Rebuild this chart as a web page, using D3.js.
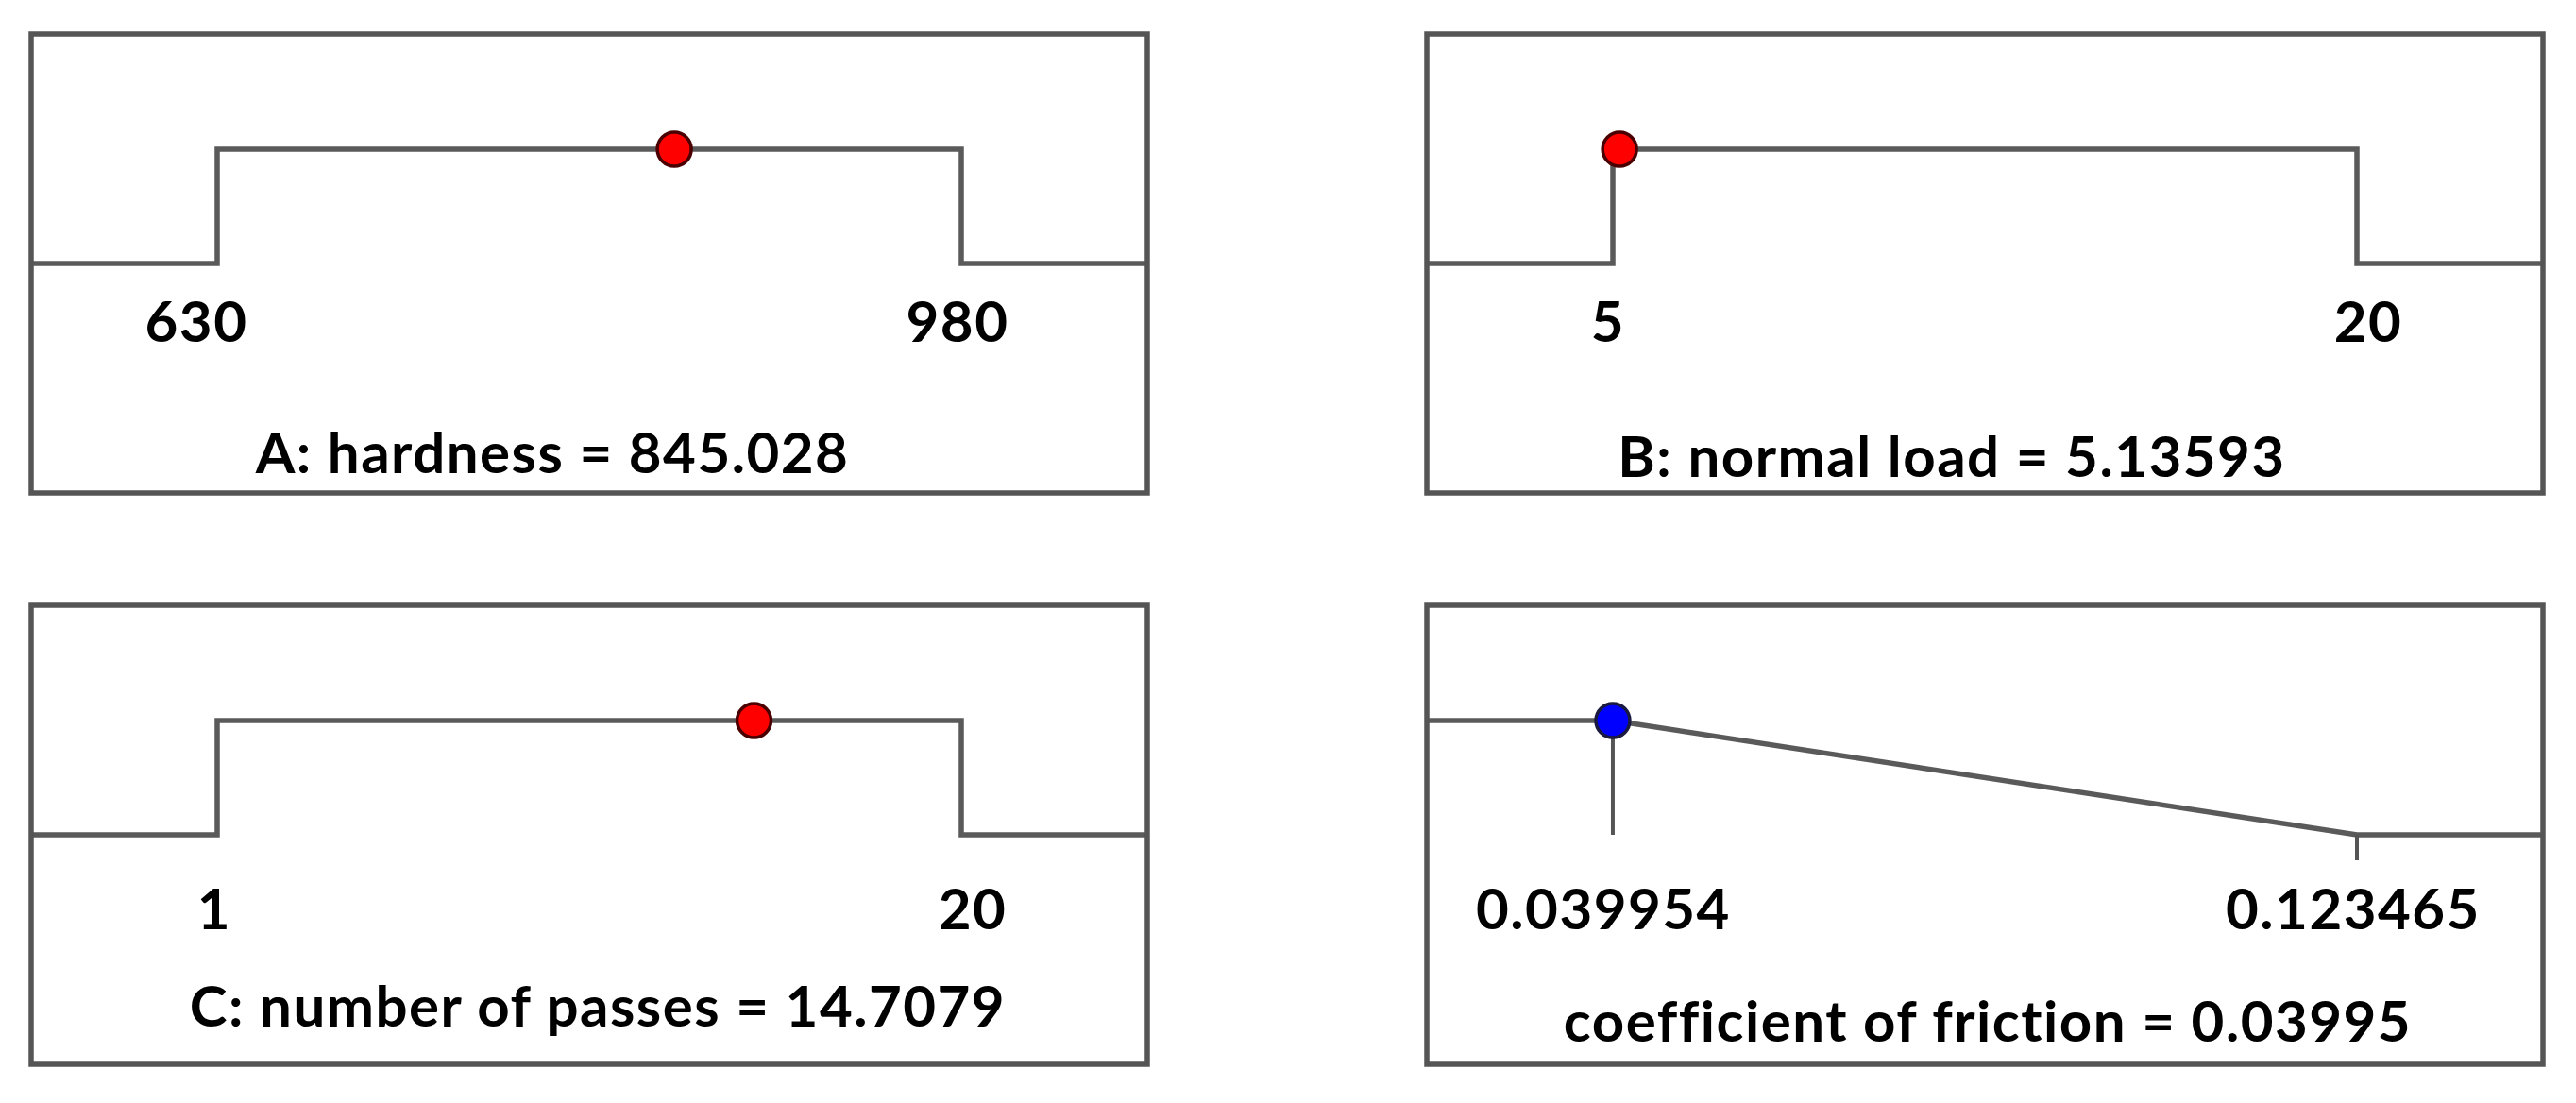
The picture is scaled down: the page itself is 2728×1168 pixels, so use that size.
<!DOCTYPE html>
<html>
<head>
<meta charset="utf-8">
<script src="https://cdn.jsdelivr.net/npm/d3@7"></script>
<style>
  html, body { margin: 0; padding: 0; background: #fff; }
  svg { display: block; }
  .frame { fill: none; stroke: #555; stroke-width: 5.5; }
  .ramp { fill: none; stroke: #5a5a5a; stroke-width: 5.5; }
  .drop { stroke: #555; stroke-width: 4; }
  .tick-label, .factor-label { font-family: Lato, "Open Sans", sans-serif; font-weight: bold; fill: #000; letter-spacing: 1.5px; }
  .tick-label { font-size: 60px; text-anchor: middle; }
  .factor-label { font-size: 60px; text-anchor: middle; }
  .dot { stroke-width: 3.5; }
</style>
</head>
<body>
<svg id="plot"></svg>
<script>
// one panel per factor / response
const factorNames = ['A: hardness', 'B: normal load', 'C: number of passes', 'coefficient of friction']
const lowValues = [630, 5, 1, 0.039954]
const highValues = [980, 20, 20, 0.123465]
const lowLabels = ['630', '5', '1', '0.039954']
const highLabels = ['980', '20', '20', '0.123465']
const currentValues = [845.028, 5.13593, 14.7079, 0.03995]
const currentLabels = ['845.028', '5.13593', '14.7079', '0.03995']
const goals = ['range', 'range', 'range', 'minimize']

const width = 2728
    , height = 1168
    , panelWidth = 1182
    , panelHeight = 486
    , inset = 197
    , panelOrigins = [[33, 36], [1511, 36], [33, 641], [1511, 641]]
    , tickBaseline = [326, 326, 343, 343]
    , tickShift = [[-22, -4], [-5, 12], [-3, 12], [-10, -4]]
    , labelCenter = [552, 556, 600, 594]
    , labelBaseline = [465, 469, 446, 462]
    , svg = d3.select('#plot').attr('width', width).attr('height', height)

const desirability = (goal, v, lo, hi) => {
    if (goal === 'range') return v >= lo && v <= hi ? 1 : 0
    if (v <= lo) return 1
    if (v >= hi) return 0
    return (hi - v) / (hi - lo)
}

const drawPanel = (d, i) => {
    const [ox, oy] = panelOrigins[i]
    const lo = lowValues[i], hi = highValues[i], goal = goals[i]
    const x = d3.scaleLinear().domain([lo, hi]).range([inset, panelWidth - inset])
    const y = d3.scaleLinear().domain([0, 1]).range([243, 122])
    const xMin = x.invert(0), xMax = x.invert(panelWidth)
    const g = svg.append('g').attr('transform', `translate(${[ox, oy]})`)

    const pts = goal === 'range'
        ? [[xMin, 0], [lo, 0], [lo, 1], [hi, 1], [hi, 0], [xMax, 0]]
        : [[xMin, 1], [lo, 1], [hi, 0], [xMax, 0]]

    g.append('path')
        .attr('class', 'ramp')
        .attr('d', d3.line().x(p => x(p[0])).y(p => y(p[1]))(pts))

    if (goal === 'minimize') {
        g.append('line')
            .attr('class', 'drop')
            .attr('x1', x(currentValues[i])).attr('x2', x(currentValues[i]))
            .attr('y1', y(1)).attr('y2', y(0))
        g.append('line')
            .attr('class', 'drop')
            .attr('x1', x(hi)).attr('x2', x(hi))
            .attr('y1', y(0)).attr('y2', y(0) + 27)
    }

    g.append('rect')
        .attr('class', 'frame')
        .attr('width', panelWidth)
        .attr('height', panelHeight)

    g.append('circle')
        .attr('class', 'dot')
        .attr('cx', x(currentValues[i]))
        .attr('cy', y(desirability(goal, currentValues[i], lo, hi)))
        .attr('r', 18)
        .attr('fill', goal === 'minimize' ? '#0000ff' : '#ff0000')
        .attr('stroke', goal === 'minimize' ? '#1a1a40' : '#4a0000')

    g.selectAll('text.tick-label')
        .data([[lo, lowLabels[i]], [hi, highLabels[i]]])
        .join('text')
        .attr('class', 'tick-label')
        .attr('x', (t, k) => x(t[0]) + tickShift[i][k])
        .attr('y', tickBaseline[i])
        .text(t => t[1])

    g.append('text')
        .attr('class', 'factor-label')
        .attr('x', labelCenter[i])
        .attr('y', labelBaseline[i])
        .text(`${d} = ${currentLabels[i]}`)
}

factorNames.forEach(drawPanel)
</script>
</body>
</html>
